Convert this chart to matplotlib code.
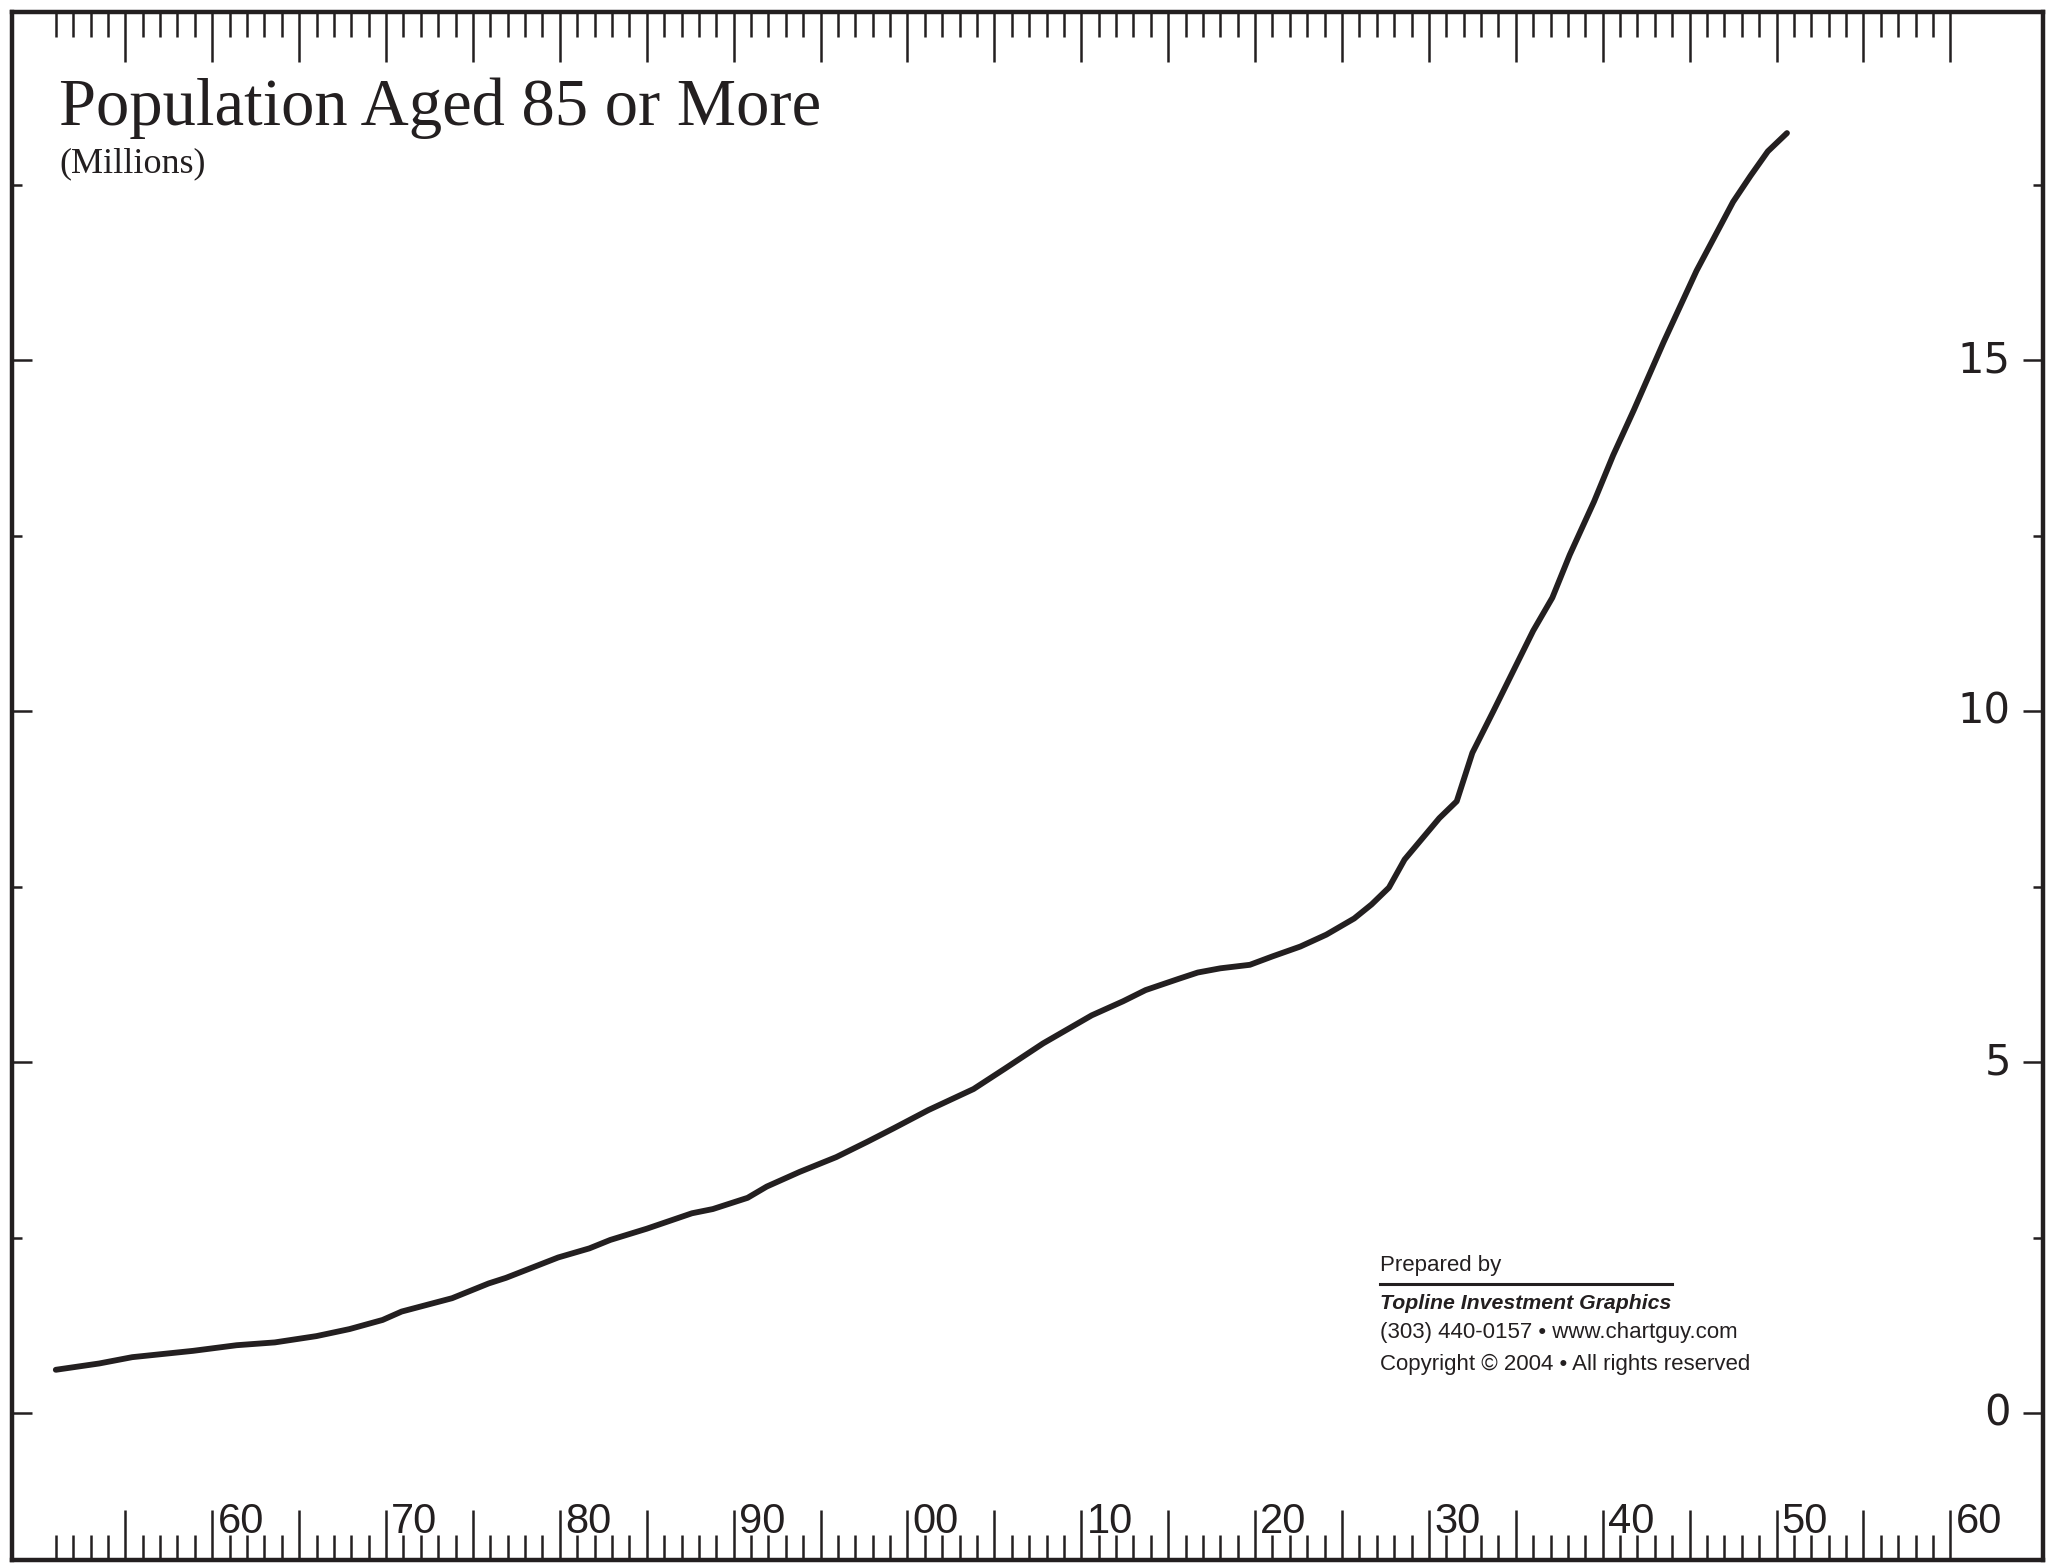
import numpy as np
from matplotlib import pyplot as plt
from matplotlib import font_manager
from matplotlib.transforms import blended_transform_factory


# values (year, millions)
years = [1951.0, 1953.5, 1955.4, 1958.9, 1961.4, 1963.6, 1966.0, 1967.9, 1969.8, 1970.9,
         1973.8, 1975.9, 1976.9, 1979.9, 1981.7, 1982.9, 1985.0, 1987.6, 1988.8, 1990.8,
         1991.9, 1993.8, 1995.9, 1997.7, 1999.2, 2001.2, 2003.8, 2005.6, 2007.8, 2010.6,
         2012.4, 2013.7, 2015.6, 2016.7, 2018.0, 2019.7, 2021.0, 2022.6, 2024.1, 2025.7,
         2026.7, 2027.7, 2028.6, 2030.6, 2031.6, 2032.5, 2033.7, 2034.9, 2036.0, 2037.1,
         2038.1, 2039.5, 2040.6, 2041.8, 2043.5, 2045.4, 2047.5, 2048.5, 2049.5, 2050.6]
pop85 = [0.62, 0.71, 0.80, 0.89, 0.97, 1.01, 1.10, 1.20, 1.33, 1.45,
         1.64, 1.85, 1.93, 2.22, 2.35, 2.47, 2.63, 2.85, 2.91, 3.07,
         3.23, 3.44, 3.65, 3.87, 4.06, 4.32, 4.62, 4.91, 5.27, 5.67,
         5.87, 6.03, 6.19, 6.28, 6.34, 6.39, 6.51, 6.65, 6.82, 7.05,
         7.25, 7.49, 7.89, 8.48, 8.72, 9.41, 10.0, 10.6, 11.15, 11.62,
         12.23, 12.99, 13.65, 14.30, 15.26, 16.28, 17.26, 17.63, 17.98, 18.24]

decade_years = [1960, 1970, 1980, 1990, 2000, 2010, 2020, 2030, 2040, 2050, 2060]
decade_labels = ['60', '70', '80', '90', '00', '10', '20', '30', '40', '50', '60']
y_ticks = [0, 5, 10, 15]
y_labels = ['0', '5', '10', '15']

ink = '#231f20'

names = {f.name for f in font_manager.fontManager.ttflist}
if 'Liberation Sans Narrow' in names:
    small_font, small_size, logo_size = 'Liberation Sans Narrow', 19.5, 18.5
else:
    small_font, small_size, logo_size = 'Liberation Sans', 16, 15.3

fig = plt.figure(figsize=(20.57, 15.63), dpi=100)
ax = fig.add_axes([12/2057, 3/1563, 2031/2057, 1548/1563])

ax.plot(years, pop85, color=ink, lw=4.2, solid_capstyle='round', solid_joinstyle='round')

ax.set_xlim(1948.48, 2065.33)
ax.set_ylim(-2.09, 19.965)

for s in ax.spines.values():
    s.set_linewidth(3.2)
    s.set_color(ink)

ax.set_xticks(np.arange(1955, 2061, 5))
ax.set_xticks([y for y in range(1951, 2060) if y % 5 != 0], minor=True)
ax.set_yticks(y_ticks)
ax.set_yticks([2.5, 7.5, 12.5, 17.5], minor=True)
ax.tick_params(axis='x', which='major', direction='in', length=36, width=1.8, color=ink,
               top=True, bottom=True, labelbottom=False)
ax.tick_params(axis='x', which='minor', direction='in', length=18, width=1.8, color=ink,
               top=True, bottom=True)
ax.tick_params(axis='y', which='major', direction='in', length=14.5, width=1.8, color=ink,
               left=True, right=True, labelleft=False)
ax.tick_params(axis='y', which='minor', direction='in', length=7.5, width=1.8, color=ink,
               left=True, right=True)

# decade labels sit just right of their tick, inside the frame
tx = blended_transform_factory(ax.transData, ax.transAxes)
for yr, lab in zip(decade_years, decade_labels):
    ax.text(yr + 0.3, 0.0175, lab, transform=tx, ha='left', va='baseline',
            fontsize=30, family='Liberation Sans', color=ink)

ty = blended_transform_factory(ax.transAxes, ax.transData)
for v, lab in zip(y_ticks, y_labels):
    ax.text(0.9842, v, lab, transform=ty, ha='right', va='center',
            fontsize=30, family='DejaVu Sans', color=ink)

fig.text(0.0287, 0.920, 'Population Aged 85 or More', fontsize=48,
         family='Liberation Serif', color=ink, va='baseline')
fig.text(0.0287, 0.890, '(Millions)', fontsize=26,
         family='Liberation Serif', color=ink, va='baseline')

# credit block
cx = 0.671
fig.text(cx, 0.187, 'Prepared by', fontsize=small_size, family=small_font, color=ink, va='baseline')
fig.add_artist(plt.Line2D([cx, 0.813], [0.1785, 0.1785], color=ink, lw=2.2))
fig.text(cx, 0.1625, 'Topline Investment Graphics', fontsize=logo_size, family=small_font,
         weight='bold', style='italic', color=ink, va='baseline')
fig.text(cx, 0.144, '(303) 440-0157 \u2022 www.chartguy.com', fontsize=small_size,
         family=small_font, color=ink, va='baseline')
fig.text(cx, 0.1235, 'Copyright \u00a9 2004 \u2022 All rights reserved', fontsize=small_size,
         family=small_font, color=ink, va='baseline')

fig.savefig('out.png', dpi=100)
